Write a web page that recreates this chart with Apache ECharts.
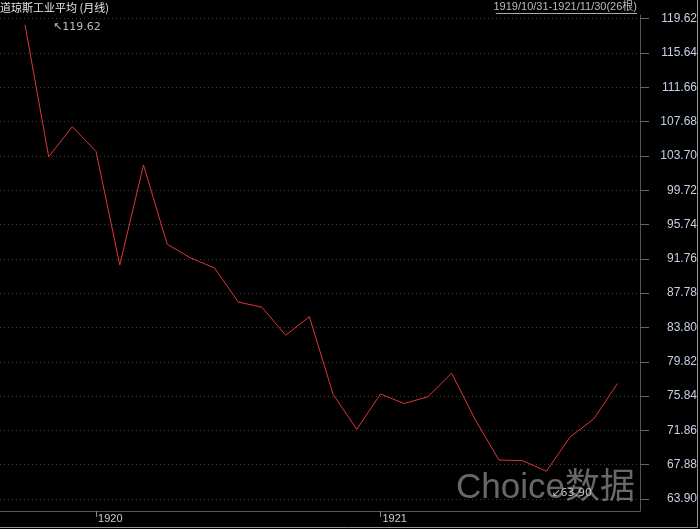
<!DOCTYPE html>
<html>
<head>
<meta charset="utf-8">
<script src="https://cdn.jsdelivr.net/npm/echarts@6/dist/echarts.min.js"></script>
<style>
html,body{margin:0;padding:0;background:#000;}
#main{width:700px;height:529px;}
</style>
</head>
<body>
<div id="main"></div>
<script>
// 月份（1919/10 - 1921/11，共26根）
var months = ['1919/10','1919/11','1919/12','1920/01','1920/02','1920/03','1920/04','1920/05','1920/06',
  '1920/07','1920/08','1920/09','1920/10','1920/11','1920/12','1921/01','1921/02','1921/03','1921/04',
  '1921/05','1921/06','1921/07','1921/08','1921/09','1921/10','1921/11'];
// 月收盘
var closes = [118.92,103.60,107.10,104.20,91.05,102.65,93.45,91.85,90.70,86.75,86.15,82.90,85.05,
  76.05,71.98,76.08,74.98,75.76,78.50,73.10,68.42,68.35,67.12,71.10,73.20,77.30];
// 右侧刻度
var yTicks = [63.90,67.88,71.86,75.84,79.82,83.80,87.78,91.76,95.74,99.72,103.70,107.68,111.66,115.64,119.62];
var highVal = 119.62, highIdx = 0;
var lowVal = 63.90, lowIdx = 22;

var points = closes.map(function(v, i){ return [i, v]; });
var yearTicks = [];
months.forEach(function(m, i){ if (m.slice(5) === '01') yearTicks.push(i); });

var chart = echarts.init(document.getElementById('main'));
chart.setOption({
  backgroundColor: '#000',
  animation: false,
  grid: { left: 0, right: 60, top: 15, bottom: 18 },
  xAxis: {
    type: 'value',
    min: -1.055,
    max: 25.95,
    axisLine: { show: true, onZero: false, lineStyle: { color: '#555' } },
    axisTick: { show: true, customValues: yearTicks, length: 6, lineStyle: { color: '#888' } },
    axisLabel: {
      customValues: yearTicks,
      formatter: function(v){ return months[v].slice(0, 4); },
      color: '#ccc', fontSize: 11, fontFamily: 'Liberation Sans',
      align: 'left', margin: 2, padding: [0, 0, 0, 2]
    },
    splitLine: { show: false }
  },
  yAxis: {
    type: 'value',
    position: 'right',
    min: 62.51,
    max: 120.05,
    axisLine: { show: true, onZero: false, lineStyle: { color: '#555' } },
    axisTick: { show: true, customValues: yTicks, length: 9, lineStyle: { color: '#666' } },
    axisLabel: {
      customValues: yTicks,
      formatter: function(v){ return v.toFixed(2); },
      color: '#c4d0e4', fontSize: 12, fontFamily: 'Liberation Sans',
      align: 'right', margin: 57
    },
    splitLine: { show: true, lineStyle: { color: '#3c3c3c', type: [1, 3] } }
  },
  series: [{
    type: 'line',
    data: points,
    showSymbol: false,
    lineStyle: { color: '#e03535', width: 1 },
    markPoint: {
      symbol: 'circle',
      symbolSize: 0,
      silent: true,
      label: { show: true, position: 'inside', align: 'left', color: '#bbb', fontSize: 11, fontFamily: 'DejaVu Sans' },
      data: [
        { coord: [highIdx, highVal], label: { formatter: '↖' + highVal.toFixed(2), offset: [28, 8] } },
        { coord: [lowIdx, lowVal], label: { formatter: '↙' + lowVal.toFixed(2), offset: [5, -6] } }
      ]
    }
  }],
  graphic: [
    { type: 'text', left: 0, top: 2, style: { text: '道琼斯工业平均 (月线)', fill: '#e6e6e6', font: '11px "Noto Sans CJK SC"' } },
    { type: 'text', right: 63, top: 1, style: { text: '1919/10/31-1921/11/30(26根)', fill: '#bbb', font: '11px "Liberation Sans", "Noto Sans CJK SC"' } },
    { type: 'line', shape: { x1: 496, y1: 13.5, x2: 637, y2: 13.5 }, style: { stroke: '#aaa', lineWidth: 1 } },
    { type: 'text', left: 456, top: 471, z: 10, style: { text: 'Choice数据', fill: 'rgba(190,190,190,0.55)', font: '35px "Liberation Sans", "Noto Sans CJK SC"' } },
    { type: 'polyline', shape: { points: [[697.5, 0], [697.5, 527.5], [0, 527.5]] }, style: { stroke: '#999', lineWidth: 1, fill: null } }
  ]
});
</script>
</body>
</html>
